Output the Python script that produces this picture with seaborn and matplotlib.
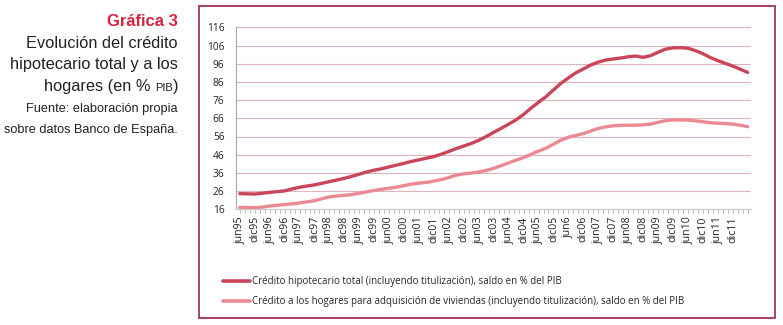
import numpy as np
import pandas as pd
import matplotlib
matplotlib.use("Agg")
import matplotlib.pyplot as plt
from matplotlib.patches import Rectangle
from matplotlib.ticker import FixedLocator, MultipleLocator
import seaborn as sns

# ---------------- data (quarterly, jun95 .. jun12) ----------------
tick_labels = ["jun95", "dic95", "jun96", "dic96", "jun97", "dic97", "jun98", "dic98",
               "jun99", "dic99", "jun00", "dic00", "jun01", "dic01", "jun02", "dic02",
               "jun03", "dic03", "jun04", "dic04", "jun05", "dic05", "jun6", "dic06",
               "jun07", "dic07", "jun08", "dic08", "jun09", "dic09", "jun10", "dic10",
               "jun11", "dic11"]

credito_total = [24.6, 24.5, 24.4, 24.8, 25.3, 25.7, 26.1, 27.2, 28.1, 28.8,
                 29.4, 30.3, 31.2, 32.1, 33.0, 34.1, 35.3, 36.5, 37.5, 38.3,
                 39.3, 40.3, 41.3, 42.3, 43.2, 44.1, 45.0, 46.3, 47.8, 49.4,
                 50.8, 52.2, 53.9, 56.0, 58.3, 60.5, 62.8, 65.2, 68.1, 71.6,
                 74.8, 77.9, 81.6, 85.2, 88.2, 91.0, 93.1, 95.3, 96.9, 98.0,
                 98.6, 99.1, 99.8, 100.2, 99.5, 100.4, 102.3, 104.0, 104.7, 104.8,
                 104.5, 103.2, 101.5, 99.4, 97.7, 96.2, 94.7, 93.0, 91.2]

credito_hogares = [17.1, 17.0, 16.9, 17.2, 17.8, 18.2, 18.6, 19.0, 19.5, 20.1,
                   20.7, 21.8, 22.8, 23.3, 23.7, 24.1, 24.8, 25.6, 26.4, 27.0,
                   27.6, 28.2, 29.0, 29.9, 30.4, 30.8, 31.5, 32.3, 33.5, 34.8,
                   35.5, 35.9, 36.5, 37.4, 38.5, 40.0, 41.5, 43.0, 44.4, 46.2,
                   48.0, 49.6, 51.8, 54.0, 55.6, 56.6, 57.6, 59.0, 60.4, 61.3,
                   61.9, 62.1, 62.2, 62.2, 62.4, 62.8, 63.8, 64.7, 65.1, 65.1,
                   65.0, 64.6, 64.1, 63.6, 63.3, 63.1, 62.8, 62.2, 61.4]

serie_total = "Crédito hipotecario total (incluyendo titulización), saldo en % del PIB"
serie_hogares = ("Crédito a los hogares para adquisición de viviendas "
                 "(incluyendo titulización), saldo en % del PIB")

y_ticks = [16, 26, 36, 46, 56, 66, 76, 86, 96, 106, 116]

# ---------------- build long-form table ----------------
n = len(credito_total)
idx = np.arange(n)
df = pd.concat([
    pd.DataFrame({"t": idx, "valor": credito_total, "serie": serie_total}),
    pd.DataFrame({"t": idx, "valor": credito_hogares, "serie": serie_hogares}),
])

sns.set_theme(style="white")
plt.rcParams["font.family"] = ["Open Sans", "DejaVu Sans"]

W, H = 783, 325
fig = plt.figure(figsize=(W / 100, H / 100), dpi=100)

def fx(px):
    return px / W

def fy(py):
    return 1 - py / H

# frame box around the chart
box = Rectangle((fx(199), fy(318)), fx(775) - fx(199), fy(6) - fy(318),
                transform=fig.transFigure, fill=False, edgecolor="#a8325a",
                linewidth=1.3, zorder=0)
fig.patches.append(box)

ax = fig.add_axes([fx(235.7), fy(209.3), fx(751) - fx(235.7), fy(27.3) - fy(209.3)])

palette = {serie_total: "#c9455a", serie_hogares: "#eb8a93"}
sns.lineplot(data=df, x="t", y="valor", hue="serie", palette=palette,
             linewidth=2.4, ax=ax, legend=True)

ax.set_xlim(-0.55, n - 1 + 0.45)
ax.set_ylim(16, 116)
ax.set_yticks(y_ticks)
ax.set_yticklabels([str(v) for v in y_ticks], fontsize=7.3, color="#222222")
ax.yaxis.grid(True, color="#e3b3bd", linewidth=0.8)
ax.xaxis.grid(False)
ax.set_axisbelow(True)

ax.xaxis.set_major_locator(FixedLocator(np.arange(0, 2 * len(tick_labels), 2)))
ax.set_xticklabels(tick_labels, rotation=90, fontsize=7.6, color="#222222")
ax.xaxis.set_minor_locator(MultipleLocator(2 / 3))
ax.tick_params(axis="x", which="both", direction="out", length=3, width=0.6,
               color="#b0b0b0", pad=2, bottom=True)
ax.tick_params(axis="y", length=0, pad=8)
ax.set_xlabel("")
ax.set_ylabel("")

for s in ["top", "right"]:
    ax.spines[s].set_visible(False)
ax.spines["left"].set_color("#a8a8a8")
ax.spines["left"].set_linewidth(0.8)
ax.spines["bottom"].set_color("#c8c8c8")
ax.spines["bottom"].set_linewidth(0.8)

leg = ax.legend(loc="upper left", bbox_to_anchor=(fx(223), fy(276)),
                bbox_transform=fig.transFigure, frameon=False, fontsize=7,
                handlelength=2.8, handletextpad=0.15, labelspacing=0.95,
                borderaxespad=0, borderpad=0)
for line in leg.get_lines():
    line.set_linewidth(2.6)

# ---------------- left-hand title block ----------------
xr = fx(178)
fam = ["Liberation Sans", "DejaVu Sans"]
fig.text(xr, fy(21), "Gráfica 3", ha="right", va="center", fontsize=12,
         fontweight="bold", color="#d2233f", family=fam)
fig.text(xr, fy(43), "Evolución del crédito", ha="right", va="center", fontsize=11.8,
         color="#222222", family=fam)
fig.text(xr, fy(65), "hipotecario total y a los", ha="right", va="center", fontsize=11.8,
         color="#222222", family=fam)

# "hogares (en % PIB)" with PIB in small caps
fig.canvas.draw()
renderer = fig.canvas.get_renderer()
parts = [("hogares (en % ", 11.8), ("PIB", 8), (")", 11.8)]
cur = 178.0
for txt, fs in reversed(parts):
    t = fig.text(fx(cur), fy(91), txt, ha="right", va="baseline", fontsize=fs,
                 color="#222222", family=fam)
    bb = t.get_window_extent(renderer=renderer)
    cur -= bb.width

narrow = ["Liberation Sans Narrow", "Liberation Sans", "DejaVu Sans"]
fig.text(xr, fy(109), "Fuente: elaboración propia", ha="right", va="center", fontsize=9.2,
         color="#222222", family=narrow)
fig.text(xr, fy(130), "sobre datos Banco de España.", ha="right", va="center", fontsize=9.2,
         color="#222222", family=narrow)

fig.savefig("out.png", dpi=100)
